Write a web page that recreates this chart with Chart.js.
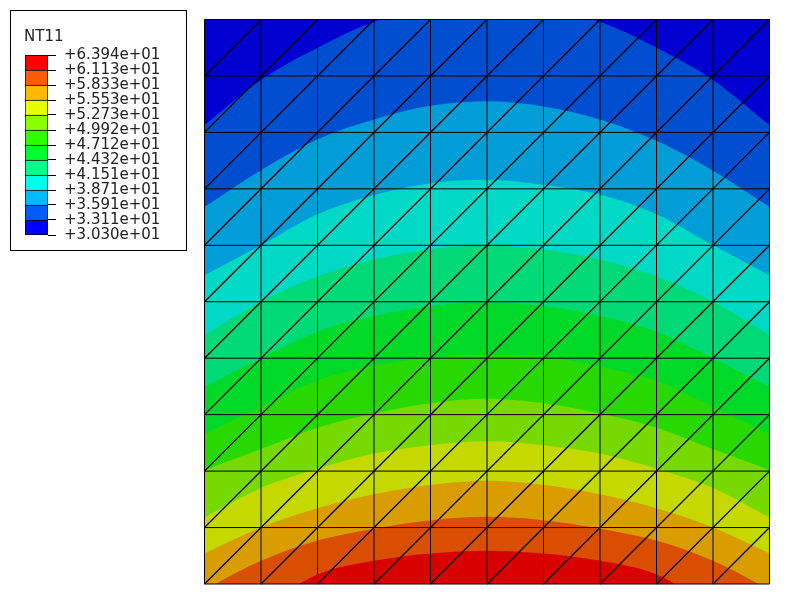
<!DOCTYPE html>
<html>
<head>
<meta charset="utf-8">
<title>NT11</title>
<script src="https://cdn.jsdelivr.net/npm/chart.js@4"></script>
<style>
  html, body { margin: 0; padding: 0; background: #fff; }
  #page { position: relative; width: 787px; height: 599px; overflow: hidden; }
  canvas { position: absolute; left: 0; top: 0; }
  #legendBox { position: absolute; left: 10px; top: 10px; width: 175px; height: 239px; border: 1px solid #000; }
  #legendTitle { position: absolute; left: 24px; top: 27px; font: 15px "DejaVu Sans", sans-serif; line-height: 18px; color: #222; }
</style>
</head>
<body>
<div id="page">
  <div id="legendBox"></div>
  <canvas id="contourChart" width="787" height="599"></canvas>
  <canvas id="legendChart" width="190" height="260"></canvas>
  <div id="legendTitle">NT11</div>
</div>
<script>
// legend, bottom to top
const legendLevels = [30.30, 33.11, 35.91, 38.71, 41.51, 44.32, 47.12, 49.92, 52.73, 55.53, 58.33, 61.13, 63.94];
const legendLabels = ["+3.030e+01", "+3.311e+01", "+3.591e+01", "+3.871e+01", "+4.151e+01", "+4.432e+01",
  "+4.712e+01", "+4.992e+01", "+5.273e+01", "+5.553e+01", "+5.833e+01", "+6.113e+01", "+6.394e+01"];
const legendColors = ["#0000ff", "#005cff", "#00b9ff", "#00ffe8", "#00ff8b", "#00ff2e",
  "#2eff00", "#8bff00", "#e8ff00", "#ffb900", "#ff5c00", "#ff0000"];
// same bands on the shaded model
const bandColors = ["#0000d0", "#004ed0", "#009dd6", "#00d9c5", "#00d976", "#00d927",
  "#27d900", "#76d900", "#c5d900", "#d99d00", "#d94e00", "#d90000"];

// mesh node positions, 10 x 10 elements
const meshNodes = [0, 1, 2, 3, 4, 5, 6, 7, 8, 9, 10];

// height of each contour line at every mesh column, coolest first
const topEdge = [10, 10, 10, 10, 10, 10, 10, 10, 10, 10, 10];
const contour1 = [8.13, 8.93, 9.50, 9.96, 10.2, 10.4, 10.2, 9.96, 9.50, 8.93, 8.13];
const contour2 = [6.68, 7.33, 7.88, 8.23, 8.47, 8.55, 8.46, 8.23, 7.85, 7.32, 6.68];
const contour3 = [5.47, 6.00, 6.55, 6.89, 7.10, 7.16, 7.07, 6.90, 6.55, 6.00, 5.47];
const contour4 = [4.41, 5.00, 5.45, 5.75, 5.93, 6.00, 5.92, 5.75, 5.45, 5.00, 4.41];
const contour5 = [3.49, 4.00, 4.47, 4.75, 4.92, 4.99, 4.92, 4.75, 4.47, 4.00, 3.49];
const contour6 = [2.66, 3.14, 3.61, 3.87, 4.01, 4.07, 4.03, 3.85, 3.60, 3.14, 2.66];
const contour7 = [2.02, 2.39, 2.77, 3.02, 3.20, 3.28, 3.20, 3.02, 2.77, 2.39, 2.02];
const contour8 = [1.18, 1.70, 2.04, 2.31, 2.46, 2.53, 2.46, 2.31, 2.04, 1.70, 1.18];
const contour9 = [0.54, 1.00, 1.34, 1.59, 1.76, 1.83, 1.76, 1.59, 1.34, 1.00, 0.54];
const contour10 = [-0.10, 0.41, 0.77, 0.98, 1.13, 1.19, 1.13, 0.98, 0.77, 0.41, -0.10];
const contour11 = [-0.70, -0.40, 0.17, 0.41, 0.54, 0.59, 0.54, 0.41, 0.17, -0.40, -0.70];

const contours = [topEdge, contour1, contour2, contour3, contour4, contour5, contour6,
  contour7, contour8, contour9, contour10, contour11];

function meshDataset(points, width) {
  return {
    data: points,
    showLine: true,
    spanGaps: false,
    borderColor: "#000",
    borderWidth: width,
    pointRadius: 0,
    clip: false,
  };
}

function gridSegments() {
  const points = [];
  const last = meshNodes[meshNodes.length - 1];
  for (const n of meshNodes) {
    points.push({ x: n, y: 0 }, { x: n, y: last }, { x: NaN, y: NaN });
    points.push({ x: 0, y: n }, { x: last, y: n }, { x: NaN, y: NaN });
  }
  return points;
}

// diagonals, bottom left to top right
function diagonalSegments() {
  const points = [];
  const last = meshNodes[meshNodes.length - 1];
  for (const n of meshNodes) {
    if (n === last) continue;
    points.push({ x: n, y: 0 }, { x: last, y: last - n }, { x: NaN, y: NaN });
    if (n > 0) points.push({ x: 0, y: n }, { x: last - n, y: last }, { x: NaN, y: NaN });
  }
  return points;
}

function renderContourChart() {
  // first dataset is drawn on top, so mesh first and hottest band before coolest
  const datasets = [meshDataset(gridSegments(), 1), meshDataset(diagonalSegments(), 1.3)];
  for (let i = contours.length - 1; i >= 0; i--) {
    datasets.push({
      data: meshNodes.map((n, k) => ({ x: n, y: contours[i][k] })),
      showLine: true,
      fill: "start",
      cubicInterpolationMode: "monotone",
      backgroundColor: bandColors[i],
      borderWidth: 0,
      pointRadius: 0,
    });
  }

  new Chart(document.getElementById("contourChart"), {
    type: "scatter",
    data: { datasets },
    options: {
      responsive: false,
      animation: false,
      devicePixelRatio: 1,
      layout: { padding: { left: 204.5, top: 19.5, right: 17.5, bottom: 15 } },
      plugins: { legend: { display: false }, tooltip: { enabled: false } },
      scales: {
        x: { type: "linear", min: 0, max: 10, display: false },
        y: { type: "linear", min: 0, max: 10, display: false },
      },
    },
  });
}

function renderLegendChart() {
  new Chart(document.getElementById("legendChart"), {
    type: "bar",
    data: {
      labels: ["NT11"],
      datasets: legendColors.map((color, i) => ({
        data: [[legendLevels[i], legendLevels[i + 1]]],
        backgroundColor: color,
        borderColor: "#000",
        borderSkipped: false,
        borderWidth: { top: 1, left: 1, right: 1, bottom: i === 0 ? 1 : 0 },
        barPercentage: 1,
        categoryPercentage: 1,
      })),
    },
    options: {
      responsive: false,
      animation: false,
      devicePixelRatio: 1,
      layout: { padding: { left: 25, top: 55, right: 0, bottom: 25 } },
      plugins: { legend: { display: false }, tooltip: { enabled: false } },
      scales: {
        x: { display: false, stacked: true },
        y: {
          position: "right",
          min: legendLevels[0],
          max: legendLevels[legendLevels.length - 1],
          afterBuildTicks: (axis) => {
            axis.ticks = legendLevels.map((value) => ({ value }));
          },
          afterFit: (axis) => { axis.width = 142; },
          border: { display: false },
          grid: { color: "#000", tickLength: 8, drawOnChartArea: false },
          ticks: {
            autoSkip: false,
            padding: 8,
            color: "#222",
            font: { family: "'DejaVu Sans'", size: 15 },
            callback: (value, i) => legendLabels[i],
          },
        },
      },
    },
  });
}

renderContourChart();
renderLegendChart();
</script>
</body>
</html>
